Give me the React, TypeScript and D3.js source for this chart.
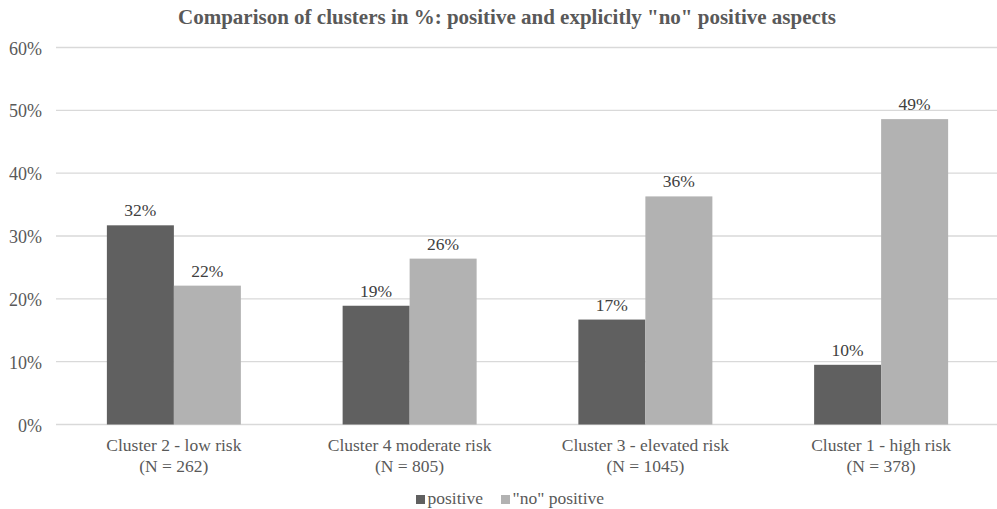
import React from "react";
import * as d3 from "d3";

const categories = ["Cluster 2 - low risk", "Cluster 4 moderate risk", "Cluster 3 - elevated risk", "Cluster 1 - high risk"];
const sampleSizes = ["(N = 262)", "(N = 805)", "(N = 1045)", "(N = 378)"];
const seriesNames = ["positive", "\"no\" positive"];
const positive = [31.7, 18.9, 16.7, 9.5];
const noPositive = [22.1, 26.4, 36.3, 48.6];
const positiveLabels = ["32%", "19%", "17%", "10%"];
const noPositiveLabels = ["22%", "26%", "36%", "49%"];
const yTicks = [0, 10, 20, 30, 40, 50, 60];
const colors = ["#606060", "#b2b2b2"];

const W = 997;
const H = 509;
const FONT = "Liberation Serif, Times New Roman, Times, serif";

export default function App() {
  const x0 = d3.scaleBand().domain(categories).range([56, 999]).paddingInner(0).paddingOuter(0);
  const y = d3.scaleLinear().domain([0, 60]).range([424.5, 47.5]);
  const groupW = 134;
  const x1 = d3.scaleBand().domain(seriesNames).range([0, groupW]);
  const series = [
    { name: seriesNames[0], values: positive, labels: positiveLabels, color: colors[0] },
    { name: seriesNames[1], values: noPositive, labels: noPositiveLabels, color: colors[1] },
  ];
  const txt = (size: number, fill: string, bold = false): React.CSSProperties => ({
    fontFamily: FONT,
    fontSize: size,
    fill,
    fontWeight: bold ? 700 : 400,
  });
  return (
    <svg width={W} height={H} style={{ position: "absolute", left: 0, top: 0, background: "#fff" }}>
      <text x={507} y={24} textAnchor="middle" style={txt(21, "#595959", true)}>
        Comparison of clusters in %: positive and explicitly "no" positive aspects
      </text>
      {yTicks.map((t) => (
        <g key={t}>
          <line x1={56} x2={997} y1={y(t)} y2={y(t)} stroke="#d9d9d9" strokeWidth={1.3} />
          <text x={42} y={y(t) + 7} textAnchor="end" style={txt(18, "#595959")}>
            {t}%
          </text>
        </g>
      ))}
      {categories.map((c, i) => {
        const cx = (x0(c) as number) + x0.bandwidth() / 2;
        const gx = cx - groupW / 2;
        return (
          <g key={c}>
            {series.map((s) => {
              const bx = gx + (x1(s.name) as number);
              const by = y(s.values[i]);
              return (
                <g key={s.name}>
                  <rect x={bx} y={by} width={x1.bandwidth()} height={y(0) - by} fill={s.color} />
                  <text x={bx + x1.bandwidth() / 2} y={by - 9} textAnchor="middle" style={txt(17.5, "#404040")}>
                    {s.labels[i]}
                  </text>
                </g>
              );
            })}
            <text x={cx} y={450.5} textAnchor="middle" style={txt(17.5, "#595959")}>{c}</text>
            <text x={cx} y={471.5} textAnchor="middle" style={txt(17.5, "#595959")}>{sampleSizes[i]}</text>
          </g>
        );
      })}
      <g>
        <rect x={416} y={495} width={9} height={9} fill={colors[0]} />
        <text x={427.5} y={504} style={txt(17.5, "#595959")}>{seriesNames[0]}</text>
        <rect x={501} y={495} width={9} height={9} fill={colors[1]} />
        <text x={512.5} y={504} style={txt(17.5, "#595959")}>{seriesNames[1]}</text>
      </g>
    </svg>
  );
}
